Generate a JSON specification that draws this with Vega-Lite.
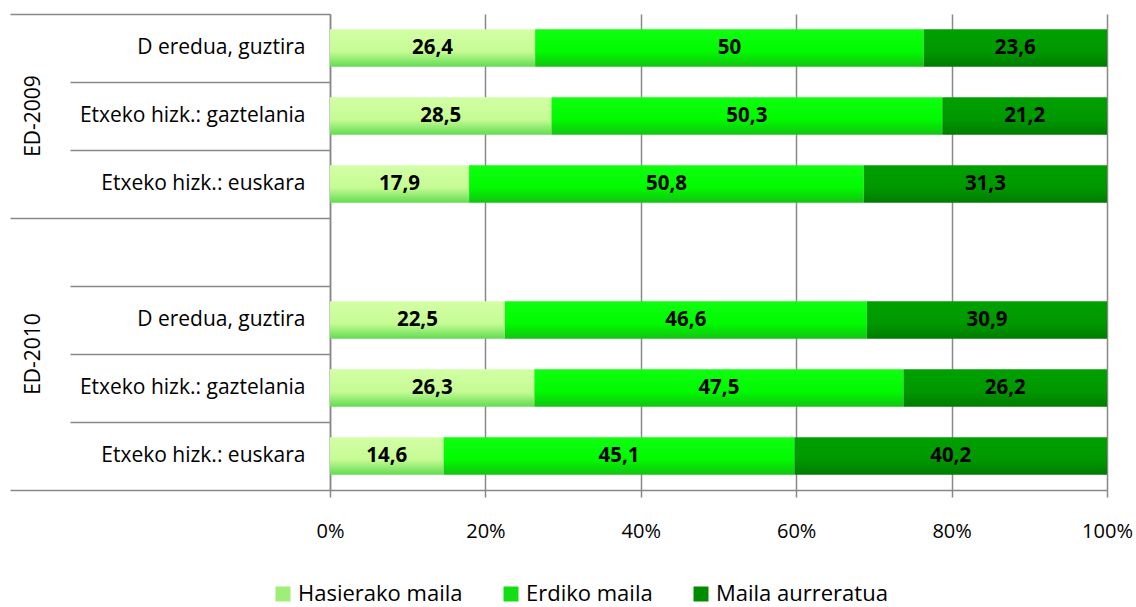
{
  "$schema": "https://vega.github.io/schema/vega-lite/v6.json",
  "autosize": "none",
  "padding": {"left": 330, "top": 14, "right": 29, "bottom": 117},
  "width": 777,
  "height": 476,
  "config": {
    "view": {"stroke": null},
    "font": "Open Sans",
    "locale": {"number": {"decimal": ",", "thousands": ".", "grouping": [3], "currency": ["", " €"]}}
  },
  "data": {
    "values": [
      {"cat": "2009|D eredua, guztira", "level": "Hasierako maila", "ord": 1, "value": 26.4},
      {"cat": "2009|D eredua, guztira", "level": "Erdiko maila", "ord": 2, "value": 50},
      {"cat": "2009|D eredua, guztira", "level": "Maila aurreratua", "ord": 3, "value": 23.6},
      {"cat": "2009|Etxeko hizk.: gaztelania", "level": "Hasierako maila", "ord": 1, "value": 28.5},
      {"cat": "2009|Etxeko hizk.: gaztelania", "level": "Erdiko maila", "ord": 2, "value": 50.3},
      {"cat": "2009|Etxeko hizk.: gaztelania", "level": "Maila aurreratua", "ord": 3, "value": 21.2},
      {"cat": "2009|Etxeko hizk.: euskara", "level": "Hasierako maila", "ord": 1, "value": 17.9},
      {"cat": "2009|Etxeko hizk.: euskara", "level": "Erdiko maila", "ord": 2, "value": 50.8},
      {"cat": "2009|Etxeko hizk.: euskara", "level": "Maila aurreratua", "ord": 3, "value": 31.3},
      {"cat": "2010|D eredua, guztira", "level": "Hasierako maila", "ord": 1, "value": 22.5},
      {"cat": "2010|D eredua, guztira", "level": "Erdiko maila", "ord": 2, "value": 46.6},
      {"cat": "2010|D eredua, guztira", "level": "Maila aurreratua", "ord": 3, "value": 30.9},
      {"cat": "2010|Etxeko hizk.: gaztelania", "level": "Hasierako maila", "ord": 1, "value": 26.3},
      {"cat": "2010|Etxeko hizk.: gaztelania", "level": "Erdiko maila", "ord": 2, "value": 47.5},
      {"cat": "2010|Etxeko hizk.: gaztelania", "level": "Maila aurreratua", "ord": 3, "value": 26.2},
      {"cat": "2010|Etxeko hizk.: euskara", "level": "Hasierako maila", "ord": 1, "value": 14.6},
      {"cat": "2010|Etxeko hizk.: euskara", "level": "Erdiko maila", "ord": 2, "value": 45.1},
      {"cat": "2010|Etxeko hizk.: euskara", "level": "Maila aurreratua", "ord": 3, "value": 40.2}
    ]
  },
  "resolve": {"axis": {"y": "independent"}},
  "layer": [
    {
      "mark": {"type": "bar", "height": {"band": 0.55}},
      "encoding": {
        "y": {
          "field": "cat",
          "type": "nominal",
          "scale": {
            "domain": ["2009|D eredua, guztira", "2009|Etxeko hizk.: gaztelania", "2009|Etxeko hizk.: euskara", "gap|", "2010|D eredua, guztira", "2010|Etxeko hizk.: gaztelania", "2010|Etxeko hizk.: euskara"],
            "paddingInner": 0,
            "paddingOuter": 0
          },
          "axis": {
            "orient": "left",
            "title": null,
            "bandPosition": 0,
            "grid": false,
            "domain": true,
            "domainColor": "#888888",
            "domainWidth": 1.5,
            "ticks": true,
            "tickColor": "#888888",
            "tickWidth": 1.5,
            "tickSize": {"condition": {"test": "datum.value === '2009|D eredua, guztira' || datum.value === 'gap|'", "value": 320}, "value": 260},
            "labelPadding": {"condition": {"test": "datum.value === '2009|D eredua, guztira' || datum.value === 'gap|'", "value": -295}, "value": -235},
            "labelExpr": "split(datum.label, '|')[1]",
            "labelFont": "Open Sans",
            "labelFontSize": 21,
            "labelColor": "#000000",
            "labelLimit": 0,
            "labelOverlap": false,
            "labelAlign": "right",
            "labelBaseline": "middle"
          }
        },
        "x": {
          "field": "value",
          "type": "quantitative",
          "stack": "normalize",
          "scale": {"domain": [0, 1], "nice": false},
          "axis": {
            "title": null,
            "values": [0, 0.2, 0.4, 0.6, 0.8, 1],
            "format": "%",
            "grid": true,
            "gridColor": "#888888",
            "gridWidth": 1.5,
            "domainColor": "#888888",
            "domainWidth": 1.5,
            "tickColor": "#888888",
            "tickWidth": 1.5,
            "tickSize": 7,
            "labelFont": "Open Sans",
            "labelFontSize": 20,
            "labelColor": "#000000",
            "labelPadding": 24,
            "labelFlush": false
          }
        },
        "order": {"field": "ord", "type": "quantitative"},
        "color": {
          "field": "level",
          "type": "nominal",
          "scale": {
            "domain": ["Hasierako maila", "Erdiko maila", "Maila aurreratua"],
            "range": ["#9eef78", "#12de12", "#008c00"]
          },
          "condition": [
            {"test": "datum.level === 'Hasierako maila'", "value": {"gradient": "linear", "x1": 0, "y1": 0, "x2": 0, "y2": 1, "stops": [{"offset": 0, "color": "#d2ffa6"}, {"offset": 0.6, "color": "#c6fb94"}, {"offset": 1, "color": "#62dc52"}]}},
            {"test": "datum.level === 'Erdiko maila'", "value": {"gradient": "linear", "x1": 0, "y1": 0, "x2": 0, "y2": 1, "stops": [{"offset": 0, "color": "#10ff10"}, {"offset": 0.6, "color": "#00fa00"}, {"offset": 1, "color": "#12c412"}]}},
            {"test": "datum.level === 'Maila aurreratua'", "value": {"gradient": "linear", "x1": 0, "y1": 0, "x2": 0, "y2": 1, "stops": [{"offset": 0, "color": "#00a000"}, {"offset": 0.6, "color": "#009800"}, {"offset": 1, "color": "#007c00"}]}}
          ],
          "legend": {
            "title": null,
            "orient": "none",
            "legendX": -58,
            "legendY": 569,
            "direction": "horizontal",
            "padding": 0,
            "symbolType": "square",
            "symbolSize": 225,
            "symbolStrokeWidth": 0,
            "labelFont": "Open Sans",
            "labelFontSize": 22,
            "labelColor": "#000000",
            "labelOffset": 4,
            "labelLimit": 0,
            "columnPadding": 37
          }
        }
      }
    },
    {
      "mark": {"type": "text", "font": "Open Sans", "fontWeight": "bold", "fontSize": 20.5, "color": "#000000", "align": "center", "baseline": "middle"},
      "encoding": {
        "y": {
          "field": "cat",
          "type": "nominal",
          "axis": {
            "orient": "left",
            "title": null,
            "bandPosition": 1,
            "values": ["2009|Etxeko hizk.: gaztelania", "2010|D eredua, guztira", "2010|Etxeko hizk.: euskara"],
            "grid": false,
            "domain": false,
            "ticks": true,
            "tickColor": "#888888",
            "tickWidth": 1.5,
            "tickSize": 320,
            "tickOpacity": {"condition": {"test": "datum.value === '2010|Etxeko hizk.: euskara'", "value": 1}, "value": 0},
            "labelExpr": "datum.value === '2009|Etxeko hizk.: gaztelania' ? 'ED-2009' : datum.value === '2010|D eredua, guztira' ? 'ED-2010' : ''",
            "labelAngle": 270,
            "labelAlign": "center",
            "labelBaseline": "middle",
            "labelPadding": -23,
            "labelOffset": {"condition": {"test": "datum.value === '2010|D eredua, guztira'", "value": 34}, "value": 0},
            "labelFont": "Open Sans",
            "labelFontSize": 21,
            "labelColor": "#000000",
            "labelLimit": 0,
            "labelOverlap": false,
            "labelBound": false
          }
        },
        "x": {
          "field": "value",
          "type": "quantitative",
          "stack": "normalize",
          "bandPosition": 0.5,
          "axis": {
            "title": null,
            "values": [0, 0.2, 0.4, 0.6, 0.8, 1],
            "format": "%",
            "grid": true,
            "gridColor": "#888888",
            "gridWidth": 1.5,
            "domainColor": "#888888",
            "domainWidth": 1.5,
            "tickColor": "#888888",
            "tickWidth": 1.5,
            "tickSize": 7,
            "labelFont": "Open Sans",
            "labelFontSize": 20,
            "labelColor": "#000000",
            "labelPadding": 24,
            "labelFlush": false
          }
        },
        "order": {"field": "ord", "type": "quantitative"},
        "detail": {"field": "level"},
        "text": {"field": "value", "type": "quantitative", "format": ".1~f"}
      }
    }
  ]
}
